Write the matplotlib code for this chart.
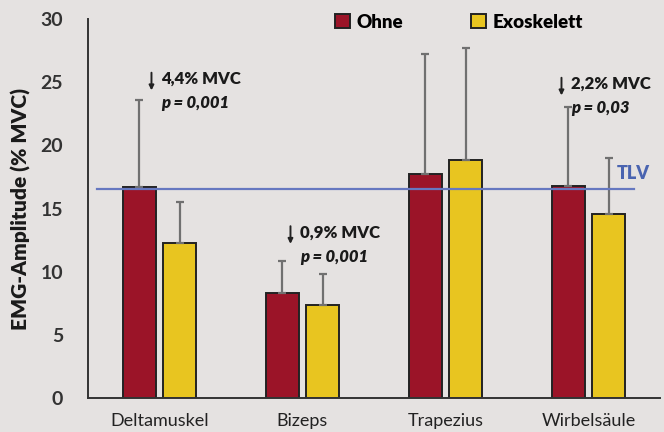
import numpy as np
import matplotlib
matplotlib.use("Agg")
import matplotlib.pyplot as plt

plt.rcParams["font.family"] = ["Lato", "DejaVu Sans"]

# EMG amplitude per muscle group, without and with exoskeleton
muscles = ["Deltamuskel", "Bizeps", "Trapezius", "Wirbelsäule"]
ohne = [16.7, 8.3, 17.7, 16.8]
exo = [12.3, 7.4, 18.8, 14.6]
ohne_sd = [6.9, 2.55, 9.5, 6.25]
exo_sd = [3.2, 2.4, 8.9, 4.4]
tlv = 16.55

# significant reductions: muscle index -> p-value text
p_values = {0: "0,001", 1: "0,001", 3: "0,03"}

# where each reduction note sits (arrow x, first line y)
note_pos = {0: (-0.056, 25.2), 1: (0.916, 13.05), 3: (2.811, 24.8)}

red = "#9b1428"
yellow = "#e8c520"
bg = "#e5e2e1"
blue = "#6678c0"

fig = plt.figure(figsize=(6.64, 4.32), dpi=100, facecolor=bg)
ax = fig.add_axes([0.1325, 0.0787, 0.8615, 0.8773], facecolor=bg)

x = np.arange(len(muscles))
w = 0.225
off = 0.14
err_kw = dict(ecolor="#707070", elinewidth=1.6, capsize=3, capthick=1.6)
b1 = ax.bar(x - off, ohne, w, color=red, edgecolor="#222222", linewidth=1.4,
            yerr=[np.zeros(len(x)), ohne_sd], error_kw=err_kw, label="Ohne", zorder=2)
b2 = ax.bar(x + off, exo, w, color=yellow, edgecolor="#222222", linewidth=1.4,
            yerr=[np.zeros(len(x)), exo_sd], error_kw=err_kw, label="Exoskelett", zorder=2)

# threshold limit value
ax.plot([-0.44, 3.32], [tlv, tlv], color=blue, lw=1.6, zorder=3)
ax.text(3.196, tlv + 1.25, "TLV", color="#4a64b0", fontsize=13,
        fontweight="heavy", va="center", ha="left")

# annotate the reductions
for i, p in p_values.items():
    diff = ohne[i] - exo[i]
    ax_x, y1 = note_pos[i]
    ax.annotate("", xy=(ax_x, y1 - 0.85), xytext=(ax_x, y1 + 0.55),
                arrowprops=dict(arrowstyle="-|>", color="#222222", lw=1.4,
                                mutation_scale=7, shrinkA=0, shrinkB=0))
    ax.text(ax_x + 0.065, y1 + 0.05, f"{diff:.1f}".replace(".", ",") + "% MVC",
            fontsize=12, fontweight="heavy", color="#1a1a1a", va="center", ha="left")
    ax.text(ax_x + 0.065, y1 - 1.85, f"p = {p}", fontsize=12, fontweight="heavy",
            style="italic", color="#1a1a1a", va="center", ha="left")

ax.set_xlim(-0.5, 3.5)
ax.set_ylim(0, 30)
ax.set_yticks(range(0, 31, 5))
ax.set_xticks(x)
ax.set_xticklabels(muscles, fontsize=13, color="#222222")
ax.tick_params(axis="y", length=0, pad=18, labelsize=14, labelcolor="#333333")
ax.tick_params(axis="x", length=0, pad=11)
for lab in ax.get_yticklabels():
    lab.set_fontweight("bold")
ax.set_ylabel("EMG-Amplitude (% MVC)", fontsize=15, fontweight="heavy",
              color="#1a1a1a", labelpad=7)

for s in ["top", "right"]:
    ax.spines[s].set_visible(False)
for s in ["left", "bottom"]:
    ax.spines[s].set_color("#333333")
    ax.spines[s].set_linewidth(1.4)

leg = ax.legend(handles=[b1, b2], loc="center", bbox_to_anchor=(0.691, 0.949),
                bbox_transform=fig.transFigure, ncol=2, frameon=False,
                handlelength=0.8, handleheight=0.8, handletextpad=0.35,
                columnspacing=3.6, prop={"weight": "heavy", "size": 13.5})
for h in leg.legend_handles:
    h.set_edgecolor("#222222")

fig.savefig("out.png", dpi=100, facecolor=bg)
